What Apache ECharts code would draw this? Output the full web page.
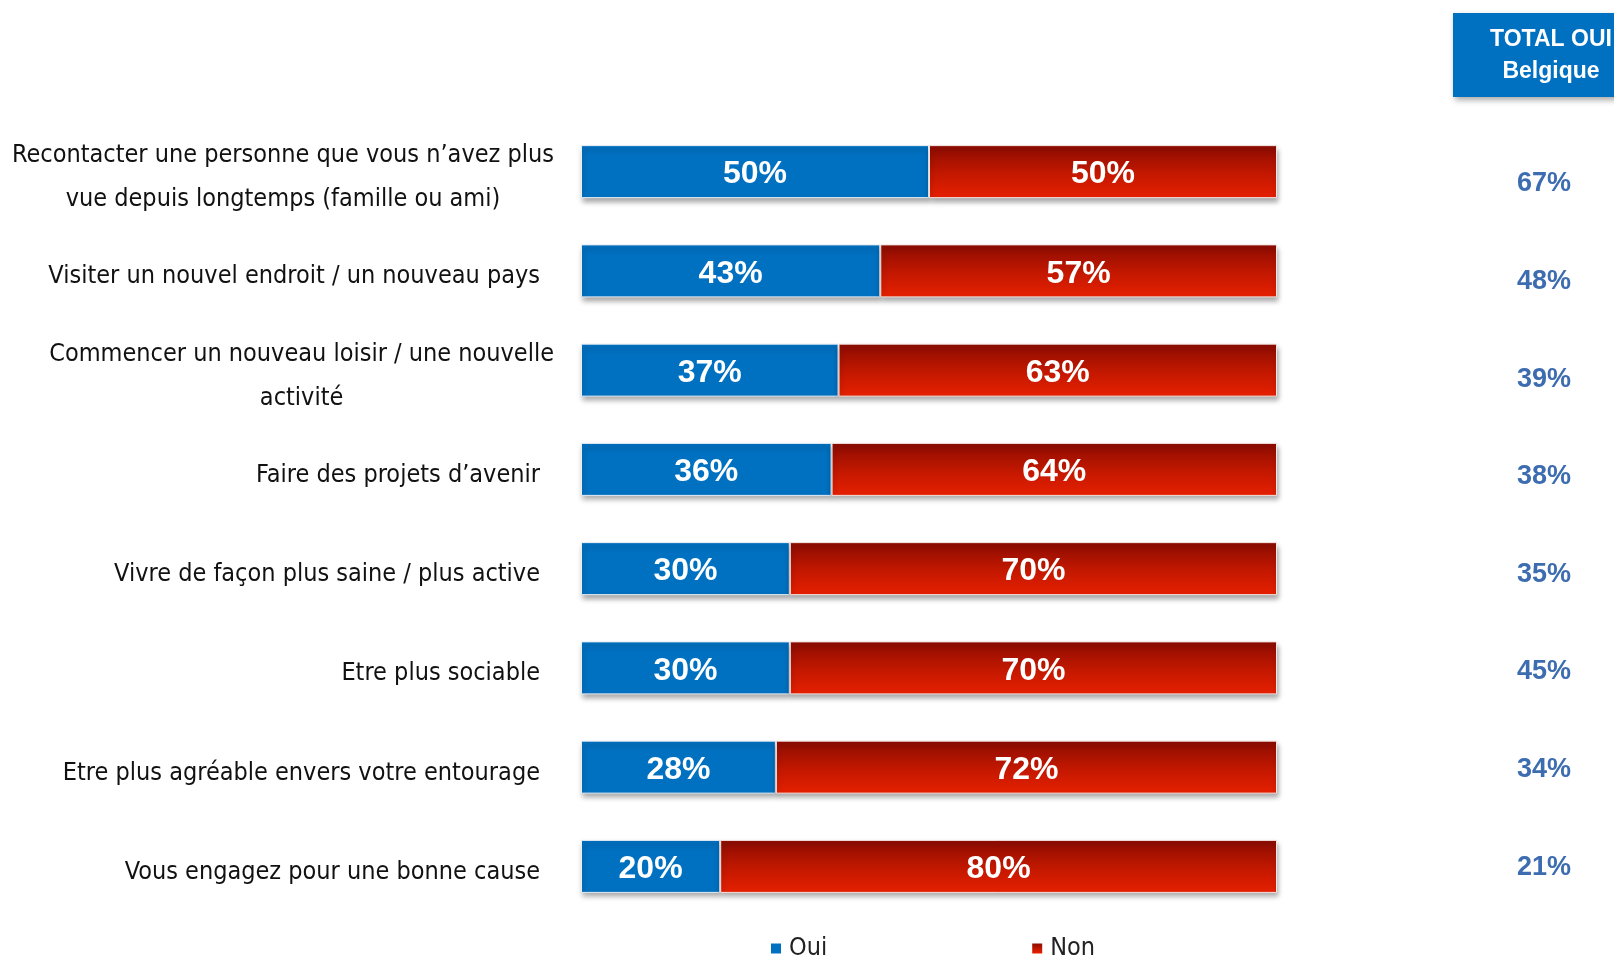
<!DOCTYPE html>
<html>
<head>
<meta charset="utf-8">
<script src="https://cdn.jsdelivr.net/npm/echarts@6/dist/echarts.min.js"></script>
<style>
  html, body { margin: 0; padding: 0; background: #ffffff; }
  #chart { width: 1614px; height: 957px; }
</style>
</head>
<body>
<div id="chart"></div>
<script>
// Survey items (top to bottom)
const categories = [
  'Recontacter une personne que vous n\u2019avez plus\nvue depuis longtemps (famille ou ami)',
  'Visiter un nouvel endroit / un nouveau pays',
  'Commencer un nouveau loisir / une nouvelle\nactivit\u00e9',
  'Faire des projets d\u2019avenir',
  'Vivre de fa\u00e7on plus saine / plus active',
  'Etre plus sociable',
  'Etre plus agr\u00e9able envers votre entourage',
  'Vous engagez pour une bonne cause'
];
// Share of "Oui" / "Non" answers (%)
const ouiValues = [50, 43, 37, 36, 30, 30, 28, 20];
const nonValues = [50, 57, 63, 64, 70, 70, 72, 80];
// Total "Oui" for Belgium (%)
const totalOuiBelgique = [67, 48, 39, 38, 35, 45, 34, 21];

const NARROW = "'Liberation Sans Narrow', 'DejaVu Sans Condensed', 'Liberation Sans', sans-serif";
const BOLD = "'Liberation Sans', 'Open Sans', sans-serif";

const chart = echarts.init(document.getElementById('chart'), null, { renderer: 'canvas' });

const barShadow = {
  shadowColor: 'rgba(0,0,0,0.35)',
  shadowBlur: 5,
  shadowOffsetX: 1,
  shadowOffsetY: 4
};

const redGradient = new echarts.graphic.LinearGradient(0, 0, 0, 1, [
  { offset: 0, color: '#8c0c00' },
  { offset: 0.55, color: '#c41800' },
  { offset: 1, color: '#e62000' }
]);

const barLabel = {
  show: true,
  position: 'inside',
  offset: [0, 3],
  formatter: p => p.value + '%',
  color: '#ffffff',
  fontFamily: BOLD,
  fontWeight: 'bold',
  fontSize: 32
};

chart.setOption({
  animation: false,
  backgroundColor: '#ffffff',
  grid: [
    // main stacked bars
    { left: 581, right: 337, top: 122, bottom: 41, containLabel: false, outerBoundsMode: 'none' },
    // "TOTAL OUI Belgique" column
    { left: 1500, right: 70, top: 135, bottom: 41, containLabel: false, outerBoundsMode: 'none' }
  ],
  legend: {
    data: ['Oui', 'Non'],
    left: 766,
    top: 931,
    itemWidth: 10,
    itemHeight: 10,
    itemGap: 205,
    icon: 'rect',
    itemStyle: { borderWidth: 0, shadowBlur: 0, shadowOffsetX: 0, shadowOffsetY: 0 },
    textStyle: { fontFamily: NARROW, fontSize: 25, color: '#222222', padding: [0, 0, 0, 3] }
  },
  xAxis: [
    { type: 'value', gridIndex: 0, min: 0, max: 100, show: false },
    { type: 'value', gridIndex: 1, min: 0, max: 100, show: false }
  ],
  yAxis: [
    {
      type: 'category',
      gridIndex: 0,
      inverse: true,
      data: categories,
      axisLine: { show: false },
      axisTick: { show: false },
      splitLine: { show: false },
      axisLabel: {
        margin: 27,
        align: 'right',
        padding: [12, 0, 0, 0],
        fontFamily: NARROW,
        fontSize: 25,
        color: '#111111',
        lineHeight: 44,
        formatter: function (v) {
          const lines = v.split('\n');
          if (lines.length > 1) {
            return lines.map(l => '{c|' + l + '}').join('\n');
          }
          return '{s|' + v + '}';
        },
        rich: {
          c: { align: 'center', fontFamily: NARROW, fontSize: 25, color: '#111111', lineHeight: 44 },
          s: { fontFamily: NARROW, fontSize: 25, color: '#111111', padding: [0, 14, 0, 0] }
        }
      }
    },
    {
      type: 'category',
      gridIndex: 1,
      inverse: true,
      data: totalOuiBelgique,
      axisLine: { show: false },
      axisTick: { show: false },
      splitLine: { show: false },
      axisLabel: {
        margin: -44,
        align: 'center',
        fontFamily: BOLD,
        fontWeight: 'bold',
        fontSize: 27,
        color: '#3d6db0',
        formatter: v => v + '%'
      }
    }
  ],
  series: [
    {
      name: 'Oui',
      type: 'bar',
      stack: 'total',
      barWidth: 53,
      data: ouiValues,
      itemStyle: Object.assign({ color: '#0070c0', borderColor: '#e8eef5', borderWidth: 1 }, barShadow),
      label: barLabel
    },
    {
      name: 'Non',
      type: 'bar',
      stack: 'total',
      barWidth: 53,
      data: nonValues,
      itemStyle: Object.assign({ color: redGradient, borderColor: '#f3e4e2', borderWidth: 1 }, barShadow),
      label: barLabel
    }
  ],
  graphic: [
    {
      type: 'group',
      left: 1453,
      top: 13,
      children: [
        {
          type: 'rect',
          shape: { x: 0, y: 0, width: 165, height: 84 },
          style: {
            fill: '#0070c0',
            shadowColor: 'rgba(0,0,0,0.35)',
            shadowBlur: 6,
            shadowOffsetX: 2,
            shadowOffsetY: 3
          }
        },
        {
          type: 'text',
          x: 98,
          y: 43,
          style: {
            text: 'TOTAL OUI\nBelgique',
            align: 'center',
            verticalAlign: 'middle',
            fill: '#ffffff',
            fontFamily: BOLD,
            fontWeight: 'bold',
            fontSize: 23,
            lineHeight: 32
          }
        }
      ]
    }
  ]
});
</script>
</body>
</html>
